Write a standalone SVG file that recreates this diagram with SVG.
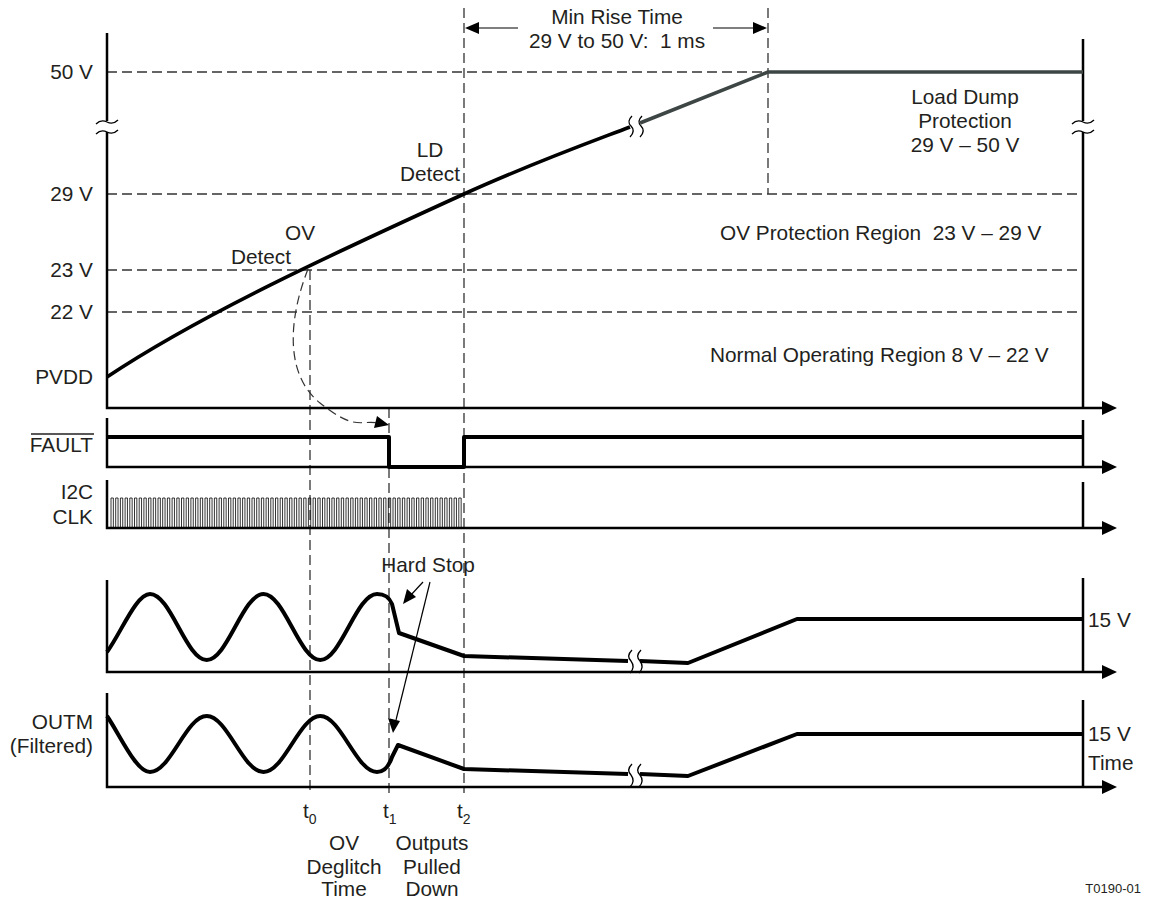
<svg xmlns="http://www.w3.org/2000/svg" width="1156" height="902" viewBox="0 0 1156 902">
<style>
text{font-family:"Liberation Sans",Arial,sans-serif;font-size:20.8px;fill:#231f20;white-space:pre}
.e{text-anchor:end}.m{text-anchor:middle}
.ax{stroke:#000;stroke-width:2.5;fill:none}
.sig{stroke:#000;stroke-width:4;fill:none;stroke-linejoin:round}
.dash{stroke:#333;stroke-width:1.3;stroke-dasharray:10 5;fill:none}
.thin{stroke:#000;stroke-width:1.2;fill:none}
.brk{stroke:#000;stroke-width:1.3;fill:none}
.wh{fill:#fff;stroke:none}
.ah{fill:#000;stroke:none}
.sub{font-size:14px}
</style>
<rect width="1156" height="902" fill="#fff"/>

<g id="grid">
<line class="dash" x1="107" y1="72" x2="768" y2="72"/>
<line class="dash" x1="107" y1="194" x2="1083" y2="194"/>
<line class="dash" x1="107" y1="270" x2="1083" y2="270"/>
<line class="dash" x1="107" y1="312" x2="1083" y2="312"/>
<line class="dash" x1="310" y1="270" x2="310" y2="793"/>
<line class="dash" x1="389" y1="408" x2="389" y2="793"/>
<line class="dash" x1="464" y1="8" x2="464" y2="793"/>
<line class="dash" x1="768" y1="8" x2="768" y2="194"/>
</g>

<g id="panel-pvdd">
<path class="ax" d="M107,33 V408 H1102"/>
<polygon class="ah" points="1102,401 1117,408 1102,415"/>
<line class="ax" x1="1083" y1="39" x2="1083" y2="408"/>
<rect class="wh" x="98" y="121" width="20" height="11"/>
<rect class="wh" x="1074" y="121" width="20" height="11"/>
<path class="brk" d="M96,124 q5,-5 11,-2 t11,-2 M96,134 q5,-5 11,-2 t11,-2"/>
<path class="brk" d="M1072,124 q5,-5 11,-2 t11,-2 M1072,134 q5,-5 11,-2 t11,-2"/>
<path d="M107,377 C200,315 330,255 464,194 C530,164 580,146 630,127" stroke="#000" stroke-width="3.6" fill="none"/>
<path d="M640,123 L768,72 L1083,72" stroke="#3d4644" stroke-width="3.6" fill="none"/>
<path class="brk" d="M632,116 c-4,4 -4,7 -1,10 c3,3 3,7 -1,11 M642,116 c-4,4 -4,7 -1,10 c3,3 3,7 -1,11"/>
<text class="e" x="93" y="79">50 V</text>
<text class="e" x="93" y="201">29 V</text>
<text class="e" x="93" y="277">23 V</text>
<text class="e" x="93" y="319">22 V</text>
<text class="e" x="93" y="384">PVDD</text>
<text class="m" x="300" y="240">OV</text>
<text class="m" x="261" y="264">Detect</text>
<text class="m" x="430" y="157">LD</text>
<text class="m" x="430" y="181">Detect</text>
<text class="m" x="965" y="104">Load Dump</text>
<text class="m" x="965" y="128">Protection</text>
<text class="m" x="965" y="152">29 V – 50 V</text>
<text x="720" y="240">OV Protection Region  23 V – 29 V</text>
<text x="710" y="362">Normal Operating Region 8 V – 22 V</text>
</g>

<g id="rise-time">
<line class="thin" x1="474" y1="28" x2="518" y2="28"/>
<polygon class="ah" points="465,28 479,22 479,34"/>
<line class="thin" x1="713" y1="28" x2="757" y2="28"/>
<polygon class="ah" points="767,28 753,22 753,34"/>
<text class="m" x="617" y="24">Min Rise Time</text>
<text class="m" x="617" y="48">29 V to 50 V:  1 ms</text>
</g>

<g id="panel-fault">
<path class="ax" d="M107,418 V467 H1102"/>
<polygon class="ah" points="1102,460 1117,467 1102,474"/>
<line class="ax" x1="1083" y1="420" x2="1083" y2="467"/>
<path class="sig" d="M107,437 H389 V467 H464 V437 H1083"/>
<text class="e" x="93" y="452">FAULT</text>
<line x1="31" y1="434" x2="94" y2="434" stroke="#231f20" stroke-width="1.5"/>
</g>

<g id="panel-i2c">
<path class="ax" d="M107,480 V528 H1102"/>
<polygon class="ah" points="1102,521 1117,528 1102,535"/>
<line class="ax" x1="1083" y1="482" x2="1083" y2="528"/>
<path d="M111,528 v-30h2.35v30h2.35v-30h2.35v30h2.35v-30h2.35v30h2.35v-30h2.35v30h2.35v-30h2.35v30h2.35 v-30h2.35v30h2.35v-30h2.35v30h2.35v-30h2.35v30h2.35v-30h2.35v30h2.35v-30h2.35v30h2.35 v-30h2.35v30h2.35v-30h2.35v30h2.35v-30h2.35v30h2.35v-30h2.35v30h2.35v-30h2.35v30h2.35 v-30h2.35v30h2.35v-30h2.35v30h2.35v-30h2.35v30h2.35v-30h2.35v30h2.35v-30h2.35v30h2.35 v-30h2.35v30h2.35v-30h2.35v30h2.35v-30h2.35v30h2.35v-30h2.35v30h2.35v-30h2.35v30h2.35 v-30h2.35v30h2.35v-30h2.35v30h2.35v-30h2.35v30h2.35v-30h2.35v30h2.35v-30h2.35v30h2.35 v-30h2.35v30h2.35v-30h2.35v30h2.35v-30h2.35v30h2.35v-30h2.35v30h2.35v-30h2.35v30h2.35 v-30h2.35v30h2.35v-30h2.35v30h2.35v-30h2.35v30h2.35v-30h2.35v30h2.35v-30h2.35v30h2.35 v-30h2.35v30h2.35v-30h2.35v30h2.35v-30h2.35v30h2.35v-30h2.35v30h2.35v-30h2.35v30h2.35 v-30h2.35v30h2.35v-30h2.35v30h2.35v-30h2.35v30h2.35v-30h2.35v30h2.35v-30h2.35v30h2.35 v-30h2.35v30h2.35v-30h2.35v30h2.35v-30h2.35v30h2.35v-30h2.35v30h2.35v-30h2.35v30h2.35 v-30h2.35v30h2.35v-30h2.35v30h2.35v-30h2.35v30h2.35v-30h2.35v30h2.35v-30h2.35v30h2.35 v-30h2.35v30h2.35v-30h2.35v30h2.35v-30h2.35v30h2.35v-30h2.35v30h2.35v-30h2.35v30h2.35 v-30h2.35v30h2.35v-30h2.35v30h2.35v-30h2.35v30h2.35v-30h2.35v30h2.35v-30h2.35v30h2.35 v-30h2.35v30h2.35v-30h2.35v30h2.35v-30h2.35v30h2.35v-30h2.35v30h2.35v-30h2.35v30h2.35" stroke="#000" stroke-width="0.8" fill="none"/>
<text class="e" x="93" y="499">I2C</text>
<text class="e" x="93" y="524">CLK</text>
</g>

<g id="panel-out">
<path class="ax" d="M107,580 V672 H1102"/>
<polygon class="ah" points="1102,665 1117,672 1102,679"/>
<line class="ax" x1="1083" y1="578" x2="1083" y2="672"/>
<path class="sig" d="M107,652 C121,633 136,594 150,594 C170.7,594 186.1,660 206.75,660 S242.8,594 263.5,594 S299.6,660 320.25,660 S356.3,594 377,594 C385,594 389,597 392,604 L399,633 L464,656 L628,661"/>
<path class="sig" d="M640,661 L688,663 L797,619 L1083,619"/>
<path class="brk" d="M632,650 c-4,4 -4,8 -1,11 c3,4 3,8 -1,12 M641,650 c-4,4 -4,8 -1,11 c3,4 3,8 -1,12"/>
<text x="1088" y="627">15 V</text>
</g>

<g id="panel-outm">
<path class="ax" d="M107,693 V787 H1102"/>
<polygon class="ah" points="1102,780 1117,787 1102,794"/>
<line class="ax" x1="1083" y1="700" x2="1083" y2="787"/>
<path class="sig" d="M107,716 C120,735 136,772 150,772 C170.7,772 186.1,716 206.75,716 S242.8,772 263.5,772 S299.6,716 320.25,716 S356.3,772 377,772 C385,772 389,766 392,757 L398,745 L464,769 L628,774"/>
<path class="sig" d="M640,774 L688,776 L797,734 L1083,734"/>
<path class="brk" d="M632,764 c-4,4 -4,8 -1,11 c3,4 3,8 -1,12 M641,764 c-4,4 -4,8 -1,11 c3,4 3,8 -1,12"/>
<text class="e" x="93" y="729">OUTM</text>
<text class="e" x="93" y="753">(Filtered)</text>
<text x="1088" y="741">15 V</text>
<text x="1088" y="770">Time</text>
</g>

<g id="annotations">
<path d="M308,269 C288,320 285,375 320,403 S360,420 378,423" stroke="#333" stroke-width="1.2" stroke-dasharray="9 5" fill="none"/>
<polygon class="ah" points="389,425 374,428 377,416"/>
<text class="m" x="428" y="572">Hard Stop</text>
<line class="thin" x1="423" y1="582" x2="410" y2="596"/>
<polygon class="ah" points="403,604 407,589 416,597"/>
<line class="thin" x1="430" y1="582" x2="396" y2="720"/>
<polygon class="ah" points="393,733 388,718 400,721"/>
</g>

<g id="time-labels">
<text x="303" y="818">t<tspan class="sub" dy="6">0</tspan></text>
<text x="383" y="818">t<tspan class="sub" dy="6">1</tspan></text>
<text x="457" y="818">t<tspan class="sub" dy="6">2</tspan></text>
<text class="m" x="344" y="850">OV</text>
<text class="m" x="344" y="874">Deglitch</text>
<text class="m" x="344" y="896">Time</text>
<text class="m" x="432" y="850">Outputs</text>
<text class="m" x="432" y="874">Pulled</text>
<text class="m" x="432" y="896">Down</text>
<text class="e" x="1141" y="893" style="font-size:13px">T0190-01</text>
</g>
</svg>
